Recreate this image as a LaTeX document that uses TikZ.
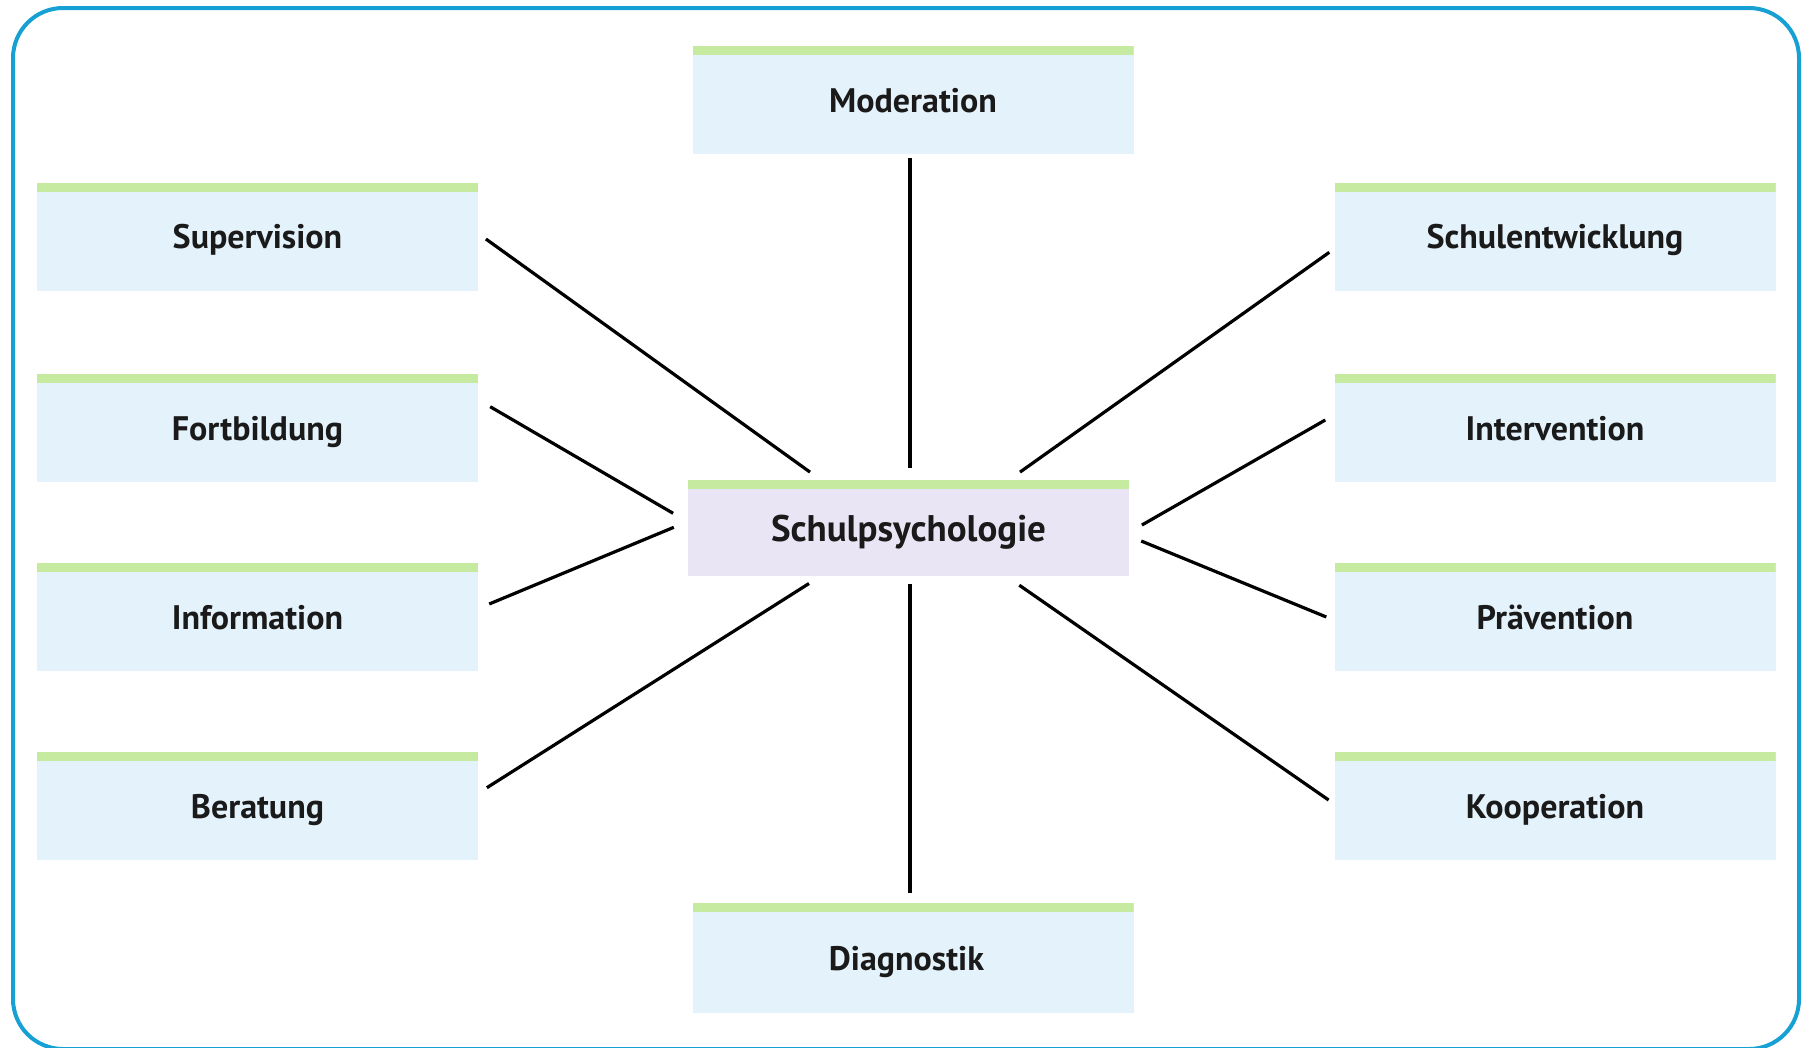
\documentclass[tikz,border=0pt]{standalone}
\usepackage{fontspec}
\setmainfont{PT Sans}
\usetikzlibrary{calc}
\definecolor{framec}{RGB}{22,160,212}
\definecolor{barc}{RGB}{198,234,160}
\definecolor{boxc}{RGB}{228,242,251}
\definecolor{centc}{RGB}{234,229,245}
\definecolor{txtc}{RGB}{26,26,26}
\tikzset{
  topic/.style={rectangle, fill=boxc, minimum width=441pt, minimum height=108pt,
    inner sep=0pt, text=txtc, text height=24pt, text depth=0pt,
    font=\fontsize{34}{40}\selectfont\bfseries,
    path picture={\fill[barc] (path picture bounding box.north west) rectangle ([yshift=-9pt]path picture bounding box.north east);}},
  hub/.style={topic, fill=centc, minimum height=96pt, text height=26pt,
    font=\fontsize{37}{44}\selectfont\bfseries},
  link/.style={draw=black, line width=3.2pt},
  framebox/.style={draw=framec, line width=4pt, rounded corners=50pt}
}
\begin{document}
\begin{tikzpicture}[x=1pt,y=-1pt]
\useasboundingbox (0,0) rectangle (1807,1047);
\draw[framebox] (13,8) rectangle (1799,1049);

\node[topic] (mod) at (913,100) {Moderation};
\node[topic, minimum height=110pt] (diag) at (913,958) {\hspace*{-13pt}Diagnostik};
\node[hub] (c) at (908.5,528) {Schulpsychologie};

\node[topic] (sup) at (257.5,236.5) {Supervision};
\node[topic] (fort) at (257.5,428) {Fortbildung};
\node[topic] (info) at (257.5,617) {Information};
\node[topic] (ber) at (257.5,806) {Beratung};

\node[topic] (sch) at (1555,236.5) {Schulentwicklung};
\node[topic] (int) at (1555,428) {Intervention};
\node[topic] (pra) at (1555,617) {Prävention};
\node[topic] (koo) at (1555,806) {Kooperation};

\draw[link] ($(sup.east)+(7.7,2.5)$) -- ($(c.north)+(-98.5,-7.7)$);
\draw[link] ($(fort.east)+(12,-21.3)$) -- ($(c.west)+(-14.7,-14.7)$);
\draw[link] ($(info.east)+(11,-13)$) -- ($(c.west)+(-14,-0.7)$);
\draw[link] ($(ber.east)+(8.7,-18.3)$) -- ($(c.south)+(-99.5,7.3)$);
\draw[link] ($(mod.south)+(-3,4)$) -- ($(c.north)+(1.5,-12)$);
\draw[link] ($(diag.north)+(-3,-10)$) -- ($(c.south)+(1.5,8)$);
\draw[link] ($(sch.west)+(-5,15.8)$) -- ($(c.north)+(111.5,-7.7)$);
\draw[link] ($(int.west)+(-9,-8)$) -- ($(c.east)+(12.7,-3)$);
\draw[link] ($(pra.west)+(-8,0)$) -- ($(c.east)+(12,13)$);
\draw[link] ($(koo.west)+(-5.7,-6)$) -- ($(c.south)+(110.8,9)$);
\end{tikzpicture}
\end{document}
